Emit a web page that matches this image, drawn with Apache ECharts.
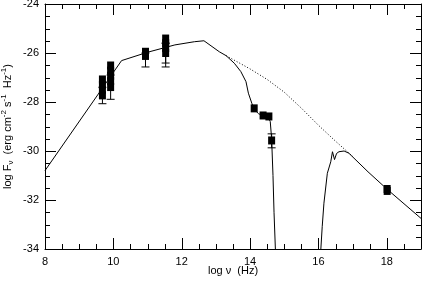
<!DOCTYPE html>
<html><head><meta charset="utf-8">
<script src="https://cdn.jsdelivr.net/npm/echarts@6/dist/echarts.min.js"></script>
<style>html,body{margin:0;padding:0;background:#fff}#c{width:422px;height:281px}</style>
</head><body><div id="c"></div>
<script>
// axis ranges and tick labels
const xRange = [8, 19];
const yRange = [-34, -24];
const xTickLabels = [8, 10, 12, 14, 16, 18];
const yTickLabels = [-34, -32, -30, -28, -26, -24];
const xMinorTicks = [8.5, 9, 9.5, 10.5, 11, 11.5, 12.5, 13, 13.5, 14.5, 15, 15.5, 16.5, 17, 17.5, 18.5];
const yMinorTicks = [-33.5, -33, -32.5, -31.5, -31, -30.5, -29.5, -29, -28.5, -27.5, -27, -26.5, -25.5, -25, -24.5];

// model (solid) - low-energy branch
const modelLowNu   = [8, 10.24, 11.0, 11.8, 12.37, 12.65, 13.1, 13.3, 13.54, 13.73, 13.88, 13.95, 14.05, 14.12, 14.25, 14.38, 14.53, 14.59, 14.63, 14.67, 14.70, 14.74];
const modelLowFlux = [-30.8, -26.31, -25.97, -25.67, -25.54, -25.5, -25.95, -26.11, -26.42, -26.76, -27.17, -27.64, -28.05, -28.3, -28.48, -28.56, -28.62, -28.8, -29.5, -31.0, -32.5, -34.0];

// model (solid) - high-energy branch
const modelHighNu   = [16.07, 16.11, 16.16, 16.26, 16.36, 16.41, 16.47, 16.53, 16.6, 16.75, 16.89, 17.45, 18.0, 19.0];
const modelHighFlux = [-34.0, -33.09, -32.13, -30.91, -30.44, -30.03, -30.35, -30.1, -30.03, -30.0, -30.09, -30.85, -31.55, -32.75];

// unabsorbed model (dotted)
const dottedNu   = [13.3, 14.0, 14.5, 15.0, 15.5, 16.0, 16.5, 17.0];
const dottedFlux = [-26.11, -26.65, -27.08, -27.6, -28.25, -28.95, -29.6, -30.22];

// observed points
const obsNu   = [9.68, 9.68, 9.68, 9.68, 9.92, 9.92, 9.92, 9.92, 9.92, 10.94, 10.94, 11.53, 11.53, 11.53, 11.53, 14.12, 14.38, 14.55, 14.63, 18.01, 18.01];
const obsFlux = [-27.08, -27.3, -27.5, -27.73, -26.51, -26.72, -26.93, -27.15, -27.39, -25.95, -26.12, -25.41, -25.6, -25.8, -26.0, -28.26, -28.55, -28.59, -29.57, -31.55, -31.63];

// error bars (x, lower, upper)
const errNu   = [9.68, 9.92, 10.94, 11.53, 11.53, 14.63];
const errLow  = [-28.07, -27.89, -26.57, -26.41, -26.57, -29.87];
const errHigh = [-27.4, -26.9, -26.0, -25.6, -25.6, -29.3];

const zip = (a, b) => a.map((v, i) => [v, b[i]]);
const black = '#000';
const font = 'Liberation Sans';

function axis(range, position, labels, margin) {
  return {
    type: 'value', min: range[0], max: range[1], interval: 2, position: position,
    axisLine: { show: true, onZero: false, lineStyle: { color: black } },
    axisTick: { show: false },
    axisLabel: labels ? { show: true, color: black, fontSize: 11, fontFamily: font, margin: margin,
      showMaxLabel: labels.includes(range[1]), formatter: v => labels.includes(v) ? String(v) : '' } : { show: false },
    splitLine: { show: false }
  };
}

const xAxes = [axis(xRange, 'bottom', xTickLabels, 7), axis(xRange, 'top', null, 0)];
xAxes[0].name = 'log \u03bd  (Hz)';
xAxes[0].nameLocation = 'middle';
xAxes[0].nameGap = 16;
xAxes[0].nameMoveOverlap = false;
xAxes[0].nameTextStyle = { color: black, fontSize: 11, fontFamily: font };

const yAxes = [axis(yRange, 'left', yTickLabels, 6), axis(yRange, 'right', null, 0)];
yAxes[0].name = '{a|log F}{s|\u03bd}{a|  (erg cm}{p|-2}{a| s}{p|-1}{a|  Hz}{p|-1}{a|)}';
yAxes[0].nameLocation = 'middle';
yAxes[0].nameGap = 30;
yAxes[0].nameMoveOverlap = false;
yAxes[0].nameTextStyle = {
  color: black, fontFamily: font,
  rich: {
    a: { fontSize: 11, fontFamily: font, color: black, lineHeight: 15, verticalAlign: 'middle' },
    s: { fontSize: 8, fontFamily: font, color: black, lineHeight: 8, verticalAlign: 'bottom' },
    p: { fontSize: 8, fontFamily: font, color: black, lineHeight: 8, verticalAlign: 'top' }
  }
};

// tick marks on all four sides, pointing inward: [x, y, isYTick, isMajor] (all inside the axis ranges)
const tickData = []
  .concat(xTickLabels.map(v => [v, yRange[0], 0, 1]))
  .concat(xMinorTicks.map(v => [v, yRange[0], 0, 0]))
  .concat(yTickLabels.map(v => [xRange[0], v, 1, 1]))
  .concat(yMinorTicks.map(v => [xRange[0], v, 1, 0]));

const lineBase = { type: 'line', xAxisIndex: 0, yAxisIndex: 0, showSymbol: false, symbol: 'none',
  smooth: false, clip: true, silent: true };

const option = {
  animation: false,
  backgroundColor: '#fff',
  grid: { left: 45, right: 1, top: 4, bottom: 32, containLabel: false, outerBoundsMode: 'none' },
  xAxis: xAxes,
  yAxis: yAxes,
  series: [
    Object.assign({}, lineBase, { data: zip(modelLowNu, modelLowFlux), lineStyle: { color: black, width: 1 } }),
    Object.assign({}, lineBase, { data: zip(modelHighNu, modelHighFlux), lineStyle: { color: black, width: 1 } }),
    Object.assign({}, lineBase, { data: zip(dottedNu, dottedFlux), lineStyle: { color: black, width: 1, type: [1, 2] } }),
    {
      type: 'custom', xAxisIndex: 0, yAxisIndex: 0, silent: true,
      dimensions: ['x', 'y', 'isY', 'major'],
      encode: { x: 0, y: 1 },
      data: tickData,
      renderItem: function (params, api) {
        const isY = api.value(2) === 1, len = api.value(3) === 1 ? 11 : 5;
        const st = { stroke: black, lineWidth: 1 };
        if (!isY) {
          const v = api.value(0);
          const b = api.coord([v, yRange[0]]), t = api.coord([v, yRange[1]]);
          const x = Math.round(b[0]) + 0.5;
          return { type: 'group', children: [
            { type: 'line', shape: { x1: x, y1: b[1], x2: x, y2: b[1] - len }, style: st },
            { type: 'line', shape: { x1: x, y1: t[1], x2: x, y2: t[1] + len }, style: st }
          ]};
        }
        const v = api.value(1);
        const l = api.coord([xRange[0], v]), r = api.coord([xRange[1], v]);
        const y = Math.round(l[1]) + 0.5;
        return { type: 'group', children: [
          { type: 'line', shape: { x1: l[0], y1: y, x2: l[0] + len, y2: y }, style: st },
          { type: 'line', shape: { x1: r[0], y1: y, x2: r[0] - len, y2: y }, style: st }
        ]};
      },
      z: 5
    },
    {
      type: 'custom', xAxisIndex: 0, yAxisIndex: 0, silent: true,
      data: errNu.map((v, i) => [v, errLow[i], errHigh[i]]),
      renderItem: function (params, api) {
        const lo = api.coord([api.value(0), api.value(1)]);
        const hi = api.coord([api.value(0), api.value(2)]);
        const w = 4;
        const st = { stroke: black, lineWidth: 1 };
        return { type: 'group', children: [
          { type: 'line', shape: { x1: lo[0], y1: lo[1], x2: hi[0], y2: hi[1] }, style: st },
          { type: 'line', shape: { x1: lo[0] - w, y1: lo[1], x2: lo[0] + w, y2: lo[1] }, style: st },
          { type: 'line', shape: { x1: hi[0] - w, y1: hi[1], x2: hi[0] + w, y2: hi[1] }, style: st }
        ]};
      },
      z: 3
    },
    {
      type: 'scatter', xAxisIndex: 0, yAxisIndex: 0, silent: true,
      data: zip(obsNu, obsFlux), symbol: 'rect', symbolSize: [7, 8],
      itemStyle: { color: black, opacity: 1 }, z: 4
    }
  ]
};
echarts.init(document.getElementById('c')).setOption(option);
</script></body></html>
